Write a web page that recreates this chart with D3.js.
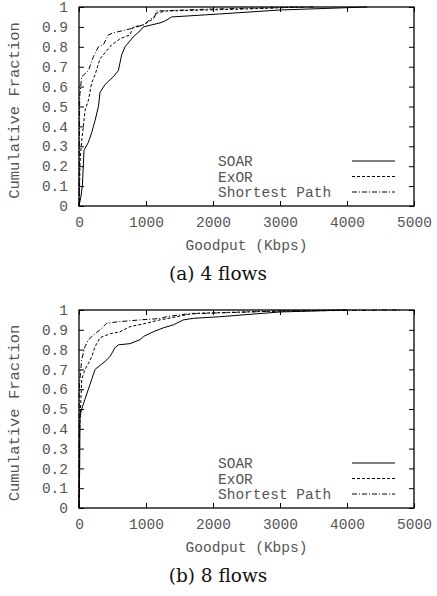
<!DOCTYPE html>
<html>
<head>
<meta charset="utf-8">
<script src="https://cdn.jsdelivr.net/npm/d3@7"></script>
<style>
  body { margin: 0; background: #fff; }
  .tick text, .lab { font-family: "Liberation Mono", monospace; fill: #555; }
  .cap { font-family: "DejaVu Serif", serif; fill: #111; }
</style>
</head>
<body>
<div id="chart"></div>
<script>
// goodput CDF data: [Kbps, cumulative fraction]
var soar4 = [[0,0],[30,0.05],[50,0.10],[75,0.28],[140,0.32],[190,0.37],[240,0.43],[290,0.50],[313,0.57],[388,0.61],[512,0.65],[587,0.68],[637,0.76],[687,0.80],[811,0.85],[910,0.88],[960,0.90],[1209,0.92],[1284,0.93],[1383,0.95],[2100,0.965],[3000,0.985],[4300,1.0]];
var exor4 = [[0,0],[5,0.03],[15,0.22],[40,0.33],[65,0.40],[90,0.48],[140,0.53],[190,0.62],[240,0.66],[313,0.74],[413,0.78],[488,0.81],[612,0.84],[761,0.86],[811,0.90],[960,0.91],[1109,0.94],[1159,0.97],[1308,0.98],[2500,0.99],[3300,1.0]];
var sp4 = [[0,0],[5,0.3],[10,0.55],[40,0.65],[140,0.68],[214,0.75],[290,0.80],[363,0.81],[438,0.86],[512,0.87],[761,0.89],[960,0.91],[1134,0.955],[1159,0.98],[2000,0.99],[3500,1.0]];

var soar8 = [[0,0],[10,0.2],[15,0.46],[40,0.50],[90,0.55],[140,0.60],[190,0.65],[240,0.70],[313,0.72],[388,0.74],[463,0.765],[537,0.81],[587,0.824],[761,0.83],[910,0.85],[960,0.866],[1109,0.89],[1259,0.91],[1408,0.925],[1557,0.95],[1706,0.958],[2100,0.966],[3000,0.99],[4000,1.0]];
var exor8 = [[0,0],[5,0.35],[40,0.65],[90,0.70],[140,0.73],[190,0.765],[240,0.815],[313,0.86],[463,0.88],[612,0.89],[761,0.916],[960,0.93],[1209,0.95],[1458,0.966],[1706,0.983],[3000,0.995],[4000,1.0]];
var sp8 = [[0,0],[2,0.6],[40,0.75],[90,0.815],[140,0.85],[240,0.88],[313,0.90],[413,0.933],[563,0.94],[910,0.95],[1209,0.957],[1308,0.966],[1607,0.98],[3000,0.995],[4800,1.0]];

var seriesNames = ["SOAR", "ExOR", "Shortest Path"];
var xTicks = [0, 1000, 2000, 3000, 4000, 5000];
var yTicks = [0, 0.1, 0.2, 0.3, 0.4, 0.5, 0.6, 0.7, 0.8, 0.9, 1];
var captions = ["(a) 4 flows", "(b) 8 flows"];

var dashes = [null, "3,2", "5,2,1,2"];

var svg = d3.select("#chart").append("svg")
    .attr("width", 437).attr("height", 596);

function panel(top, bottom, data, caption) {
  var left = 79, right = 414;
  var x = d3.scaleLinear().domain([0, 5000]).range([left, right]);
  var y = d3.scaleLinear().domain([0, 1]).range([bottom, top]);
  var g = svg.append("g");

  // axes, ticks pointing inward
  var fmtY = function(d) { return d == 0 || d == 1 ? d3.format("d")(d) : d3.format(".1f")(d); };
  g.append("g").attr("transform", "translate(0," + bottom + ")")
      .call(d3.axisBottom(x).tickValues(xTicks).tickSize(-5).tickPadding(11).tickFormat(d3.format("d")));
  g.append("g").attr("transform", "translate(" + left + ",0)")
      .call(d3.axisLeft(y).tickValues(yTicks).tickSize(-5).tickPadding(11).tickFormat(fmtY));
  g.append("g").attr("transform", "translate(0," + top + ")")
      .call(d3.axisTop(x).tickValues(xTicks).tickSize(-5).tickFormat(""));
  g.append("g").attr("transform", "translate(" + right + ",0)")
      .call(d3.axisRight(y).tickValues(yTicks).tickSize(-5).tickFormat(""));
  g.selectAll(".domain").remove();
  g.selectAll(".tick line").attr("stroke", "#000");
  g.selectAll(".tick text").style("font-size", "14.5px");
  g.append("rect").attr("x", left).attr("y", top)
      .attr("width", right - left).attr("height", bottom - top)
      .attr("fill", "none").attr("stroke", "#000").attr("stroke-width", 1.3);

  var line = d3.line().x(function(d) { return x(d[0]); }).y(function(d) { return y(d[1]); });
  data.forEach(function(s, i) {
    g.append("path").datum(s)
        .attr("fill", "none").attr("stroke", "#000").attr("stroke-width", 1)
        .attr("stroke-dasharray", dashes[i])
        .attr("d", line);
  });

  // legend
  seriesNames.forEach(function(n, i) {
    var ly = bottom - 45 + i * 15.5;
    g.append("text").attr("class", "lab").attr("x", 218).attr("y", ly + 5)
        .style("font-size", "14.5px").text(n);
    g.append("line").attr("x1", 352).attr("x2", 395).attr("y1", ly).attr("y2", ly)
        .attr("stroke", "#000").attr("stroke-width", 1).attr("stroke-dasharray", dashes[i]);
  });

  g.append("text").attr("class", "lab").attr("text-anchor", "middle")
      .attr("x", (left + right) / 2).attr("y", bottom + 44)
      .style("font-size", "14.5px").text("Goodput (Kbps)");
  g.append("text").attr("class", "lab").attr("text-anchor", "middle")
      .attr("transform", "translate(" + [19, (top + bottom) / 2 + 4] + ") rotate(-90)")
      .style("font-size", "15.5px").text("Cumulative Fraction");
  g.append("text").attr("class", "cap").attr("text-anchor", "middle")
      .attr("x", 218).attr("y", bottom + 74)
      .style("font-size", "18.5px").text(caption);
}

panel(7, 206, [soar4, exor4, sp4], captions[0]);
panel(310, 508, [soar8, exor8, sp8], captions[1]);
</script>
</body>
</html>
